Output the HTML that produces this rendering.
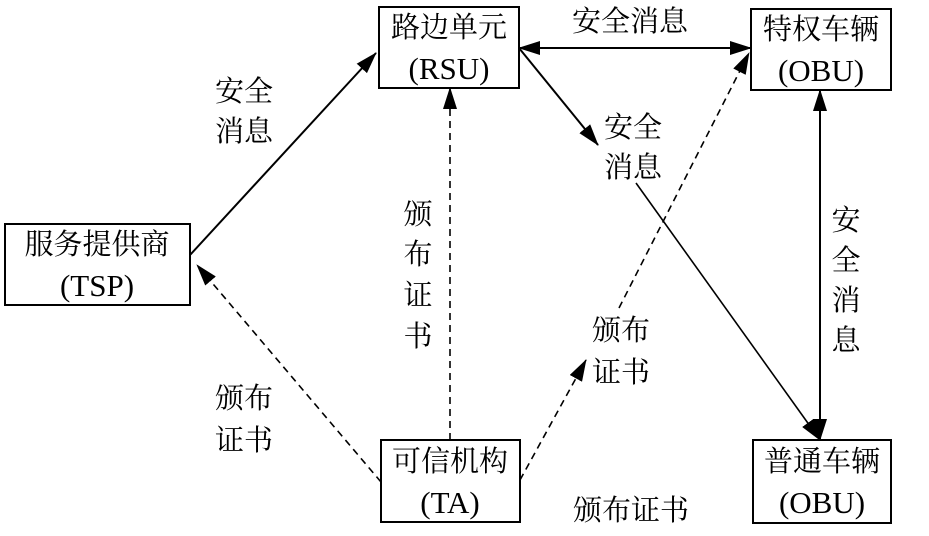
<!DOCTYPE html>
<html><head><meta charset="utf-8"><style>
body{margin:0;background:#fff;}
svg text{font-family:"Liberation Serif","Noto Serif CJK SC",serif;font-size:29px;fill:#000;}
svg text.l{font-size:31px;}
</style></head><body>
<svg width="929" height="531" viewBox="0 0 929 531" xmlns="http://www.w3.org/2000/svg">
<defs>
<marker id="b" markerWidth="22" markerHeight="14" refX="21" refY="7" orient="auto-start-reverse" markerUnits="userSpaceOnUse" viewBox="0 0 22 14">
<path d="M0,0 L22,7 L0,14 Z" fill="#000"/></marker>
</defs>
<g fill="none" stroke="#000" stroke-width="2">
<rect x="379" y="7" width="140" height="81"/>
<rect x="751" y="9" width="140" height="81"/>
<rect x="5" y="224" width="185" height="81"/>
<rect x="381" y="440" width="139" height="82"/>
<rect x="753" y="440" width="138" height="83"/>
</g>
<g stroke="#000" stroke-width="2" fill="none">
<line x1="519" y1="48" x2="751" y2="48" marker-start="url(#b)" marker-end="url(#b)"/>
<line x1="190" y1="255" x2="376" y2="53" marker-end="url(#b)"/>
<line x1="519" y1="48" x2="598" y2="145" marker-end="url(#b)"/>
<line x1="820" y1="90" x2="820" y2="440" marker-start="url(#b)" marker-end="url(#b)"/>
<line x1="636" y1="183" x2="820" y2="440" stroke-width="1.6" marker-end="url(#b)"/>
</g>
<g stroke="#000" stroke-width="1.6" fill="none" stroke-dasharray="7,5">
<line x1="450" y1="440" x2="450" y2="88" marker-end="url(#b)"/>
<line x1="381" y1="482" x2="197" y2="265" marker-end="url(#b)"/>
<line x1="520" y1="480" x2="586" y2="360" marker-end="url(#b)"/>
<line x1="619" y1="308" x2="749" y2="53" marker-end="url(#b)"/>
</g>
<g text-anchor="middle">
<text x="449" y="37">路边单元</text>
<text class="l" x="449" y="79">(RSU)</text>
<text x="821" y="39">特权车辆</text>
<text class="l" x="821" y="81">(OBU)</text>
<text x="97" y="254">服务提供商</text>
<text class="l" x="97" y="296">(TSP)</text>
<text x="450" y="471">可信机构</text>
<text class="l" x="450" y="513">(TA)</text>
<text x="822" y="471">普通车辆</text>
<text class="l" x="822" y="513">(OBU)</text>
<text x="630" y="31">安全消息</text>
<text x="244" y="101">安全</text>
<text x="244" y="141">消息</text>
<text x="633" y="137">安全</text>
<text x="633" y="177">消息</text>
<text x="418" y="224">颁</text>
<text x="418" y="264">布</text>
<text x="418" y="305">证</text>
<text x="418" y="346">书</text>
<text x="846" y="230">安</text>
<text x="846" y="270">全</text>
<text x="846" y="310">消</text>
<text x="846" y="350">息</text>
<text x="244" y="408">颁布</text>
<text x="244" y="450">证书</text>
<text x="621" y="340">颁布</text>
<text x="621" y="382">证书</text>
<text x="631" y="520">颁布证书</text>
</g>
</svg>
</body></html>
